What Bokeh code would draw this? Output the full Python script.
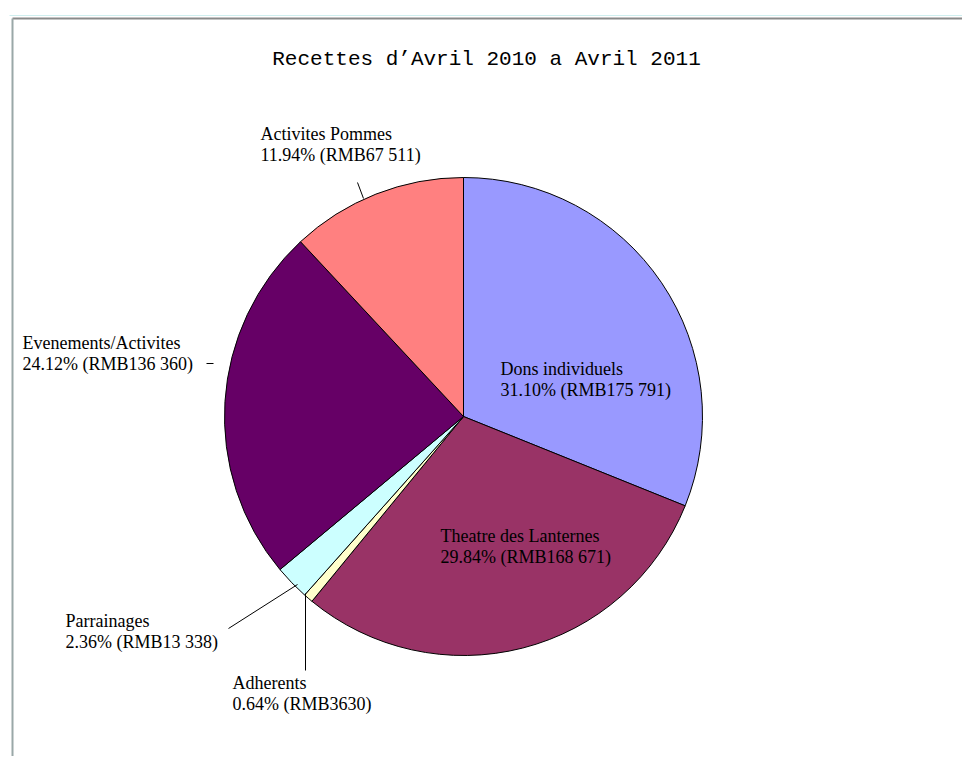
import math
from bokeh.plotting import figure
from bokeh.models import Range1d
from bokeh.core.properties import value
from bokeh.embed import file_html
from bokeh.resources import INLINE

# ---- data ----
categories = ["Dons individuels", "Theatre des Lanternes", "Adherents",
              "Parrainages", "Evenements/Activites", "Activites Pommes"]
amounts = [175791, 168671, 3630, 13338, 136360, 67511]
amount_labels = ["RMB175 791", "RMB168 671", "RMB3630", "RMB13 338",
                 "RMB136 360", "RMB67 511"]
colors = ["#9999FF", "#993366", "#FFFFCC", "#CCFFFF", "#660066", "#FF8080"]
title_text = "Recettes d\u2019Avril 2010 a Avril 2011"

W, H = 962, 756

def sx(x):
    return x

def sy(y):
    return H - y

p = figure(width=W, height=H, output_backend="svg", toolbar_location=None,
           x_range=Range1d(0, W), y_range=Range1d(0, H),
           min_border=0, outline_line_color=None)
p.axis.visible = False
p.grid.visible = False
p.background_fill_color = "white"
p.border_fill_color = "white"

# frame decoration (window border of the original screenshot)
p.line([sx(12), sx(970)], [sy(18), sy(18)], line_color="#8a8a8a", line_width=2)
p.line([sx(12), sx(12)], [sy(18), sy(770)], line_color="#9aa8a8", line_width=2)
p.line([sx(9), sx(970)], [sy(15), sy(15)], line_color="#cfeeee", line_width=1)

# ---- pie ----
cx, cy, r = sx(463), sy(416), 239
total = float(sum(amounts))
starts, ends = [], []
cum = 0.0
for a in amounts:
    starts.append(math.pi / 2 - 2 * math.pi * cum / total)
    cum += a
    ends.append(math.pi / 2 - 2 * math.pi * cum / total)

p.wedge(x=[cx] * len(amounts), y=[cy] * len(amounts), radius=r,
        start_angle=starts, end_angle=ends, direction="clock",
        fill_color=colors, line_color="black", line_width=1)

# ---- labels ----
pcts = ["%.2f%%" % (100 * a / total) for a in amounts]
label_pos = [(500, 368), (440, 535), (232, 682), (65, 620), (22, 342), (260, 133)]
for i, (lx, ly) in enumerate(label_pos):
    p.text(x=[sx(lx), sx(lx)], y=[sy(ly), sy(ly + 21)],
           text=[categories[i], "%s (%s)" % (pcts[i], amount_labels[i])],
           text_font=value("Liberation Serif"), text_font_size="18px",
           text_color="black", text_baseline="alphabetic", text_align="left")

# leader lines
leaders = [((357, 182), (363, 198)),   # Pommes
           ((206, 363), (213, 363)),   # Evenements
           ((228, 628), (297, 584)),   # Parrainages
           ((305, 593), (305, 670))]   # Adherents
for (x0, y0), (x1, y1) in leaders:
    p.line([sx(x0), sx(x1)], [sy(y0), sy(y1)], line_color="black", line_width=1)

# title
p.text(x=[sx(486)], y=[sy(59)], text=[title_text],
       text_font=value("Liberation Mono"), text_font_size="21px",
       text_align="center", text_baseline="middle", text_color="black")

open("out.html", "w").write(file_html(p, INLINE))
